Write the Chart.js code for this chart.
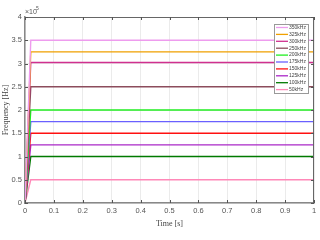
<!DOCTYPE html>
<html>
<head>
<meta charset="utf-8">
<script src="https://cdn.jsdelivr.net/npm/chart.js@4/dist/chart.umd.min.js"></script>
<style>
  html, body { margin: 0; padding: 0; background: #fff; }
  #wrap { width: 320px; height: 240px; }
</style>
</head>
<body>
<div id="wrap"><canvas id="grafico"></canvas></div>
<script>
// time points [s]
const tempo = [0, 0.02, 1];
// frequency in Hz
const labels = ['350kHz', '325kHz', '300kHz', '250kHz', '200kHz', '175kHz', '150kHz', '125kHz', '100kHz', '50kHz'];
const f350 = [0, 350000, 350000];
const f325 = [0, 325000, 325000];
const f300 = [0, 302000, 302000];
const f250 = [0, 250000, 250000];
const f200 = [0, 200000, 200000];
const f175 = [0, 175000, 175000];
const f150 = [0, 150000, 150000];
const f125 = [0, 125000, 125000];
const f100 = [0, 100000, 100000];
const f50 = [0, 50000, 50000];
const cores = ['#ee9cee', '#f0a000', '#d0308f', '#8c4c5c', '#22ee22', '#6a60ff', '#ff1010', '#aa28c8', '#007a00', '#ff88b8'];
const yTicks = [0, 0.5, 1, 1.5, 2, 2.5, 3, 3.5, 4];

const series = [f350, f325, f300, f250, f200, f175, f150, f125, f100, f50];

const datasets = series.map(function (s, i) {
  return {
    label: labels[i],
    data: s.map(function (v, k) { return { x: tempo[k], y: v }; }),
    borderColor: cores[i],
    backgroundColor: cores[i],
    borderWidth: 1.4,
    pointRadius: 0,
    tension: 0
  };
});

// box, exponent, inner tick marks and legend
const extras = {
  id: 'extras',
  afterDraw: function (chart) {
    const ctx = chart.ctx;
    const a = chart.chartArea;
    const xs = chart.scales.x, ys = chart.scales.y;
    ctx.save();
    ctx.strokeStyle = '#666';
    ctx.lineWidth = 1;
    ctx.beginPath();
    ctx.moveTo(a.left, a.top + 0.5);
    ctx.lineTo(a.right - 0.5, a.top + 0.5);
    ctx.lineTo(a.right - 0.5, a.bottom);
    ctx.stroke();

    // inner ticks
    ctx.strokeStyle = '#555';
    ctx.beginPath();
    for (let i = 0; i <= 10; i++) {
      const x = Math.round(xs.getPixelForValue(i / 10)) + 0.5;
      ctx.moveTo(x, a.bottom); ctx.lineTo(x, a.bottom - 3);
      ctx.moveTo(x, a.top); ctx.lineTo(x, a.top + 3);
    }
    yTicks.forEach(function (t) {
      const y = Math.round(ys.getPixelForValue(t * 1e5)) + 0.5;
      ctx.moveTo(a.left, y); ctx.lineTo(a.left + 3, y);
      ctx.moveTo(a.right, y); ctx.lineTo(a.right - 3, y);
    });
    ctx.stroke();

    // x10^5
    ctx.fillStyle = '#555';
    ctx.font = '7px "Liberation Sans"';
    ctx.textBaseline = 'alphabetic';
    ctx.textAlign = 'left';
    ctx.fillText('\u00d710', a.left, a.top - 3);
    ctx.font = '5px "Liberation Sans"';
    ctx.fillText('5', a.left + 11, a.top - 7);

    // legend
    const lx = 274, ly = 24, lw = 34, lh = 69;
    ctx.fillStyle = '#fff';
    ctx.fillRect(lx, ly, lw, lh);
    ctx.strokeStyle = '#999';
    ctx.strokeRect(lx + 0.5, ly + 0.5, lw, lh);
    ctx.font = '5px "Liberation Sans"';
    ctx.textBaseline = 'middle';
    chart.data.datasets.forEach(function (d, i) {
      const y = ly + 3.5 + i * 6.9;
      ctx.strokeStyle = d.borderColor;
      ctx.lineWidth = 1.3;
      ctx.beginPath();
      ctx.moveTo(lx + 2, y); ctx.lineTo(lx + 14, y);
      ctx.stroke();
      ctx.fillStyle = '#444';
      ctx.fillText(d.label, lx + 15, y);
    });
    ctx.restore();
  }
};

document.addEventListener("DOMContentLoaded", function () {
  new Chart(document.getElementById("grafico"), {
    type: 'line',
    data: { datasets: datasets },
    plugins: [extras],
    options: {
      responsive: true,
      maintainAspectRatio: false,
      animation: false,
      layout: { padding: { top: 17, right: 6, bottom: 11, left: 1 } },
      plugins: { legend: { display: false }, tooltip: { enabled: false } },
      scales: {
        x: {
          type: 'linear',
          min: 0, max: 1,
          afterFit: function (s) { s.height = 26; },
          ticks: {
            stepSize: 0.1, padding: 3, color: '#555', maxRotation: 0,
            font: { family: 'Liberation Sans', size: 7.5 },
            callback: function (v) { return Math.round(v * 10) / 10; }
          },
          grid: { color: '#ebebeb', drawTicks: false },
          border: { color: '#888', width: 1.5 },
          title: {
            display: true, text: 'Time [s]', color: '#444',
            font: { family: 'Liberation Serif', size: 8 }, padding: { top: 2, bottom: 0 }
          }
        },
        y: {
          min: 0, max: 400000,
          afterFit: function (s) { s.width = 24; },
          afterBuildTicks: function (s) { s.ticks = yTicks.map(function (t) { return { value: t * 1e5 }; }); },
          ticks: {
            padding: 3, color: '#555',
            font: { family: 'Liberation Sans', size: 7.5 },
            callback: function (v) { return v / 1e5; }
          },
          grid: { color: '#ebebeb', drawTicks: false },
          border: { color: '#888', width: 1.5 },
          title: {
            display: true, text: 'Frequency [Hz]', color: '#444',
            font: { family: 'Liberation Serif', size: 8 }, padding: { top: 0, bottom: 0 }
          }
        }
      }
    }
  });
});
</script>
</body>
</html>
